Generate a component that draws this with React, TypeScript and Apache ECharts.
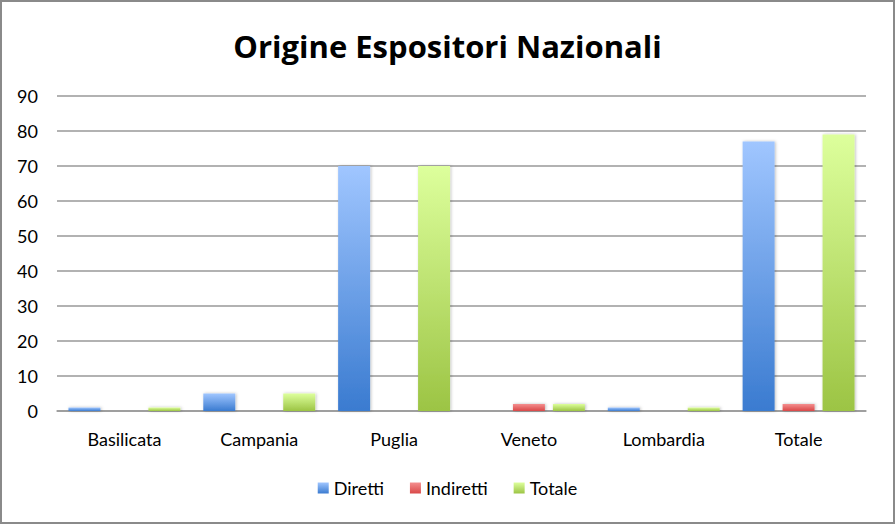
import React, { useEffect, useRef } from "react";
import * as echarts from "echarts";

const categories = ["Basilicata", "Campania", "Puglia", "Veneto", "Lombardia", "Totale"];
const diretti = [1, 5, 70, 0, 1, 77];
const indiretti = [0, 0, 0, 2, 0, 2];
const totale = [1, 5, 70, 2, 1, 79];
const seriesNames = ["Diretti", "Indiretti", "Totale"];

const grad = (top: string, bottom: string) =>
  new echarts.graphic.LinearGradient(0, 0, 0, 1, [
    { offset: 0, color: top },
    { offset: 1, color: bottom },
  ]);

export default function App() {
  const ref = useRef<HTMLDivElement>(null);
  useEffect(() => {
    if (!ref.current) return;
    const chart = echarts.init(ref.current, null, { renderer: "svg" });
    const font = "Lato, 'Open Sans', sans-serif";
    const barStyle = (c: any) => ({
      color: c,
      shadowColor: "rgba(0,0,0,0.25)",
      shadowBlur: 3,
      shadowOffsetX: 1,
      shadowOffsetY: 0,
    });
    chart.setOption({
      animation: false,
      title: {
        text: "Origine Espositori Nazionali",
        left: "center",
        top: 25,
        textStyle: { fontFamily: "'Open Sans', sans-serif", fontWeight: "bold", fontSize: 31, color: "#000" },
      },
      legend: {
        bottom: 22,
        left: "center",
        itemWidth: 11,
        itemHeight: 11,
        itemGap: 26,
        icon: "rect",
        textStyle: { fontFamily: font, fontSize: 18, color: "#000" },
        data: seriesNames,
      },
      grid: { left: 57, right: 29, top: 96, bottom: 113 },
      xAxis: {
        type: "category",
        data: categories,
        axisTick: { show: false },
        axisLine: { lineStyle: { color: "#999", width: 1.5 } },
        axisLabel: { fontFamily: font, fontSize: 18, color: "#000", margin: 19 },
      },
      yAxis: {
        type: "value",
        min: 0,
        max: 90,
        interval: 10,
        axisLine: { show: false },
        axisTick: { show: false },
        splitLine: { lineStyle: { color: "#999", width: 1.5 } },
        axisLabel: { fontFamily: font, fontSize: 18, color: "#000", margin: 19 },
      },
      series: [
        {
          name: "Diretti",
          type: "bar",
          data: diretti,
          barGap: "25%",
          barCategoryGap: "17%",
          itemStyle: barStyle(grad("#A0C6FF", "#3A7BD0")),
        },
        {
          name: "Indiretti",
          type: "bar",
          data: indiretti,
          itemStyle: barStyle(grad("#F48E8E", "#D94848")),
        },
        {
          name: "Totale",
          type: "bar",
          data: totale,
          itemStyle: barStyle(grad("#DDFF9C", "#9CC444")),
        },
      ],
    });
    return () => chart.dispose();
  }, []);
  return (
    <div
      style={{
        position: "fixed",
        left: 0,
        top: 0,
        width: 895,
        height: 524,
        boxSizing: "border-box",
        border: "2px solid #8a8a8a",
        background: "#fff",
      }}
    >
      <div ref={ref} style={{ position: "absolute", left: -2, top: -2, width: 895, height: 524 }} />
    </div>
  );
}
